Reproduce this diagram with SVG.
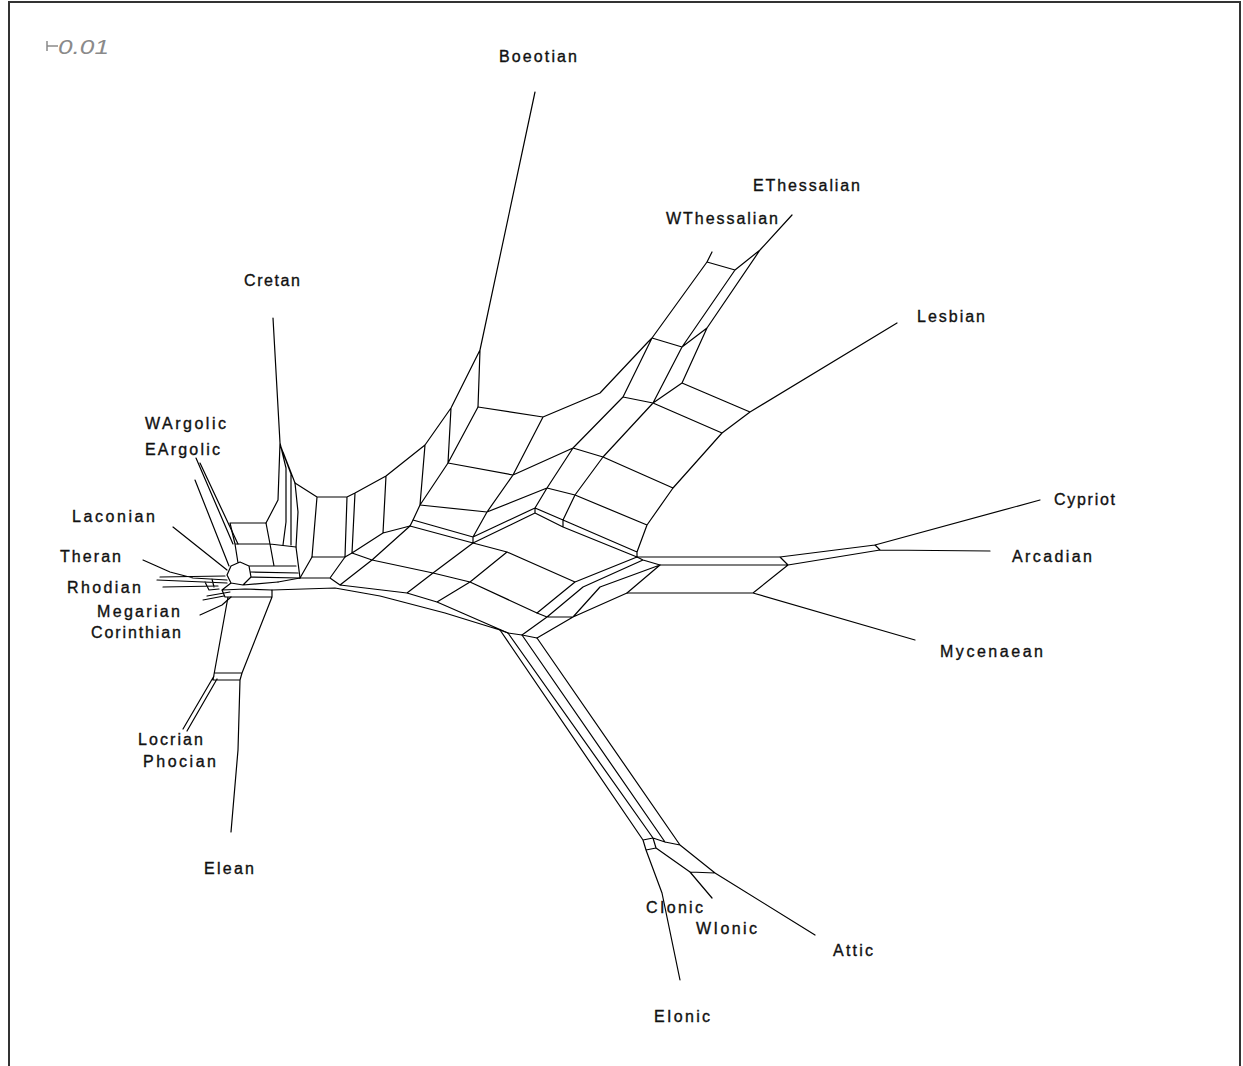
<svg xmlns="http://www.w3.org/2000/svg" width="1243" height="1066" viewBox="0 0 1243 1066">
<style>
.e{fill:none;stroke:#000;stroke-width:1.2;stroke-linejoin:round;stroke-linecap:round}
.t{font-family:"Liberation Sans",Arial,sans-serif;font-size:16px;fill:#111;stroke:#111;stroke-width:0.35}
.s{font-family:"Liberation Sans",Arial,sans-serif;font-size:20px;font-style:italic;fill:#8a8a8a}
</style>
<rect x="0" y="0" width="1243" height="1066" fill="#fff"/>
<path d="M9,1066 V2 H1240 V1066" fill="none" stroke="#333" stroke-width="2"/>
<g id="scale">
<path d="M47,41 V51 M47,46 H58" fill="none" stroke="#8a8a8a" stroke-width="1.5"/>
<text class="s" x="58" y="54" textLength="51" lengthAdjust="spacingAndGlyphs">0.01</text>
</g>
<g id="connectors" class="e">
<path class="e" d="M535,92 L480,350 L478,407 M480,350 L451,408 L425,445 L386,476 L355,493 L347,497 L317,497 L295,483 M451,408 L448,463 M425,445 L420,505 M386,476 L383,533 M355,493 L352,553 M347,497 L345,557 M317,497 L312,557 M312,557 L345,557 L352,553 L383,533 L410,526 L413,520 L420,505 L448,463 L478,407"/>
<path class="e" d="M478,407 L543,417 L600,393 L648,342 L652,338 M448,463 L513,475 L573,448 L603,457 L673,488 M543,417 L513,475 L487,512 L473,537 L473,543 M420,505 L487,512 L547,488 L575,495 L647,525 M413,520 L473,537 L535,508 L563,520 L637,552 M410,526 L473,543 L535,513 L563,527 L637,557 M573,448 L547,488 L535,508 L535,513 M603,457 L575,495 L563,520 L563,527 M673,488 L647,525 L637,552 L637,557 M623,397 L573,448 M653,403 L603,457 M623,397 L652,338 L707,262 L712,252 M623,397 L653,403 L722,433 L750,412 L897,323 M652,338 L682,347 L653,403 M682,347 L735,270 L707,262 M735,270 L760,250 L792,215 M760,250 L707,328 L682,347 M707,328 L682,383 L653,403 M682,383 L750,412 M722,433 L673,488"/>
<path class="e" d="M473,543 L507,552 L575,582 L637,557 M372,560 L433,573 L470,582 L537,613 L575,582 M410,526 L372,560 L340,585 L407,593 L437,602 L508,633 M473,543 L433,573 L407,593 M507,552 L470,582 L437,602 M352,553 L372,560 M300,578 L312,557 M330,578 L345,557 M278,582 L300,578 L330,578 L340,585 M272,590 L335,588 L380,596 L445,613 L500,630"/>
<path class="e" d="M637,557 L643,560 L660,565 M643,560 L583,587 L547,617 L522,635 M660,565 L600,587 L573,617 L537,638 M627,593 L573,617 M627,593 L660,565 M537,613 L547,617 L573,617 M500,630 L508,633 L522,635 L537,638"/>
<path class="e" d="M500,630 L643,840 M508,633 L653,838 M522,635 L665,842 M537,638 L680,845 M643,840 L653,838 L665,842 L680,845 M643,840 L646,850 L656,848 L653,838 M656,848 L690,872 L715,873 L680,845 M715,873 L815,935 M690,872 L712,898 M646,850 L662,893 L680,980"/>
<path class="e" d="M637,557 L780,557 L875,545 L1040,500 M660,565 L788,565 L880,550 L990,551 M780,557 L788,565 M875,545 L880,550 M627,593 L753,593 L788,565 M753,593 L915,640"/>
<path class="e" d="M273,318 L280,443 L278,500 L266,523 M280,443 L286,468 L286,522 L283,545 M281,447 L291,474 L291,545 M283,452 L295,483 L298,512 L296,547 L300,578"/>
<path class="e" d="M230,523 L266,523 L270,544 L235,544 Z M270,544 L296,547 M235,544 L238,563 M270,544 L274,566 M231,566 L240,562 L249,566 L251,577 L243,585 L231,583 L227,575 Z M249,566 L296,566 M251,572 L298,573 M251,577 L300,578 M243,585 L278,582 M245,589 L272,590 M222,590 L245,589 M225,597 L272,597 M222,590 L225,597 M231,583 L222,590 M228,597 L213,680 M272,590 L272,597 L242,673 L240,680 M213,680 L240,680 M215,673 L242,673 M240,680 L238,750 L231,832 M214,676 L183,729 M217,679 L187,731"/>
<path class="e" d="M196,458 L233,544 M200,463 L238,544 M195,480 L229,566 M173,527 L227,570 M143,560 L170,572 L193,578 L227,580 M157,580 L227,583 M160,577 L225,576 M163,587 L218,586 M205,582 L209,590 L219,589 M212,579 L214,587 M203,600 L224,596 M207,596 L230,592 M200,615 L222,605 L231,597"/>
</g>
<g id="taxon-Boeotian"><text class="t" x="499" y="62" textLength="78" lengthAdjust="spacing">Boeotian</text></g>
<g id="taxon-EThessalian"><text class="t" x="753" y="191" textLength="107" lengthAdjust="spacing">EThessalian</text></g>
<g id="taxon-WThessalian"><text class="t" x="666" y="224" textLength="112" lengthAdjust="spacing">WThessalian</text></g>
<g id="taxon-Cretan"><text class="t" x="244" y="286" textLength="56" lengthAdjust="spacing">Cretan</text></g>
<g id="taxon-Lesbian"><text class="t" x="917" y="322" textLength="68" lengthAdjust="spacing">Lesbian</text></g>
<g id="taxon-WArgolic"><text class="t" x="145" y="429" textLength="81" lengthAdjust="spacing">WArgolic</text></g>
<g id="taxon-EArgolic"><text class="t" x="145" y="455" textLength="75" lengthAdjust="spacing">EArgolic</text></g>
<g id="taxon-Laconian"><text class="t" x="72" y="522" textLength="83" lengthAdjust="spacing">Laconian</text></g>
<g id="taxon-Theran"><text class="t" x="60" y="562" textLength="61" lengthAdjust="spacing">Theran</text></g>
<g id="taxon-Rhodian"><text class="t" x="67" y="593" textLength="74" lengthAdjust="spacing">Rhodian</text></g>
<g id="taxon-Megarian"><text class="t" x="97" y="617" textLength="83" lengthAdjust="spacing">Megarian</text></g>
<g id="taxon-Corinthian"><text class="t" x="91" y="638" textLength="90" lengthAdjust="spacing">Corinthian</text></g>
<g id="taxon-Cypriot"><text class="t" x="1054" y="505" textLength="61" lengthAdjust="spacing">Cypriot</text></g>
<g id="taxon-Arcadian"><text class="t" x="1012" y="562" textLength="80" lengthAdjust="spacing">Arcadian</text></g>
<g id="taxon-Mycenaean"><text class="t" x="940" y="657" textLength="103" lengthAdjust="spacing">Mycenaean</text></g>
<g id="taxon-Locrian"><text class="t" x="138" y="745" textLength="65" lengthAdjust="spacing">Locrian</text></g>
<g id="taxon-Phocian"><text class="t" x="143" y="767" textLength="73" lengthAdjust="spacing">Phocian</text></g>
<g id="taxon-Elean"><text class="t" x="204" y="874" textLength="50" lengthAdjust="spacing">Elean</text></g>
<g id="taxon-CIonic"><text class="t" x="646" y="913" textLength="57" lengthAdjust="spacing">CIonic</text></g>
<g id="taxon-WIonic"><text class="t" x="696" y="934" textLength="61" lengthAdjust="spacing">WIonic</text></g>
<g id="taxon-Attic"><text class="t" x="833" y="956" textLength="40" lengthAdjust="spacing">Attic</text></g>
<g id="taxon-EIonic"><text class="t" x="654" y="1022" textLength="56" lengthAdjust="spacing">EIonic</text></g>
</svg>
